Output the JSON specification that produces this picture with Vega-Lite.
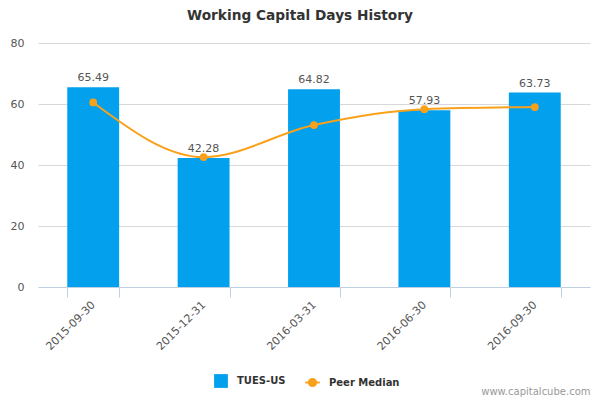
{
  "$schema": "https://vega.github.io/schema/vega-lite/v6.json",
  "width": 552,
  "height": 244,
  "autosize": {"type": "none"},
  "padding": {"left": 38, "top": 43, "right": 10, "bottom": 113},
  "background": "#ffffff",
  "title": {
    "text": "Working Capital Days History",
    "fontSize": 13.7,
    "fontWeight": "bold",
    "color": "#333333",
    "font": "DejaVu Sans",
    "anchor": "middle",
    "dx": -14,
    "offset": 14
  },
  "data": {
    "values": [
      {"date": "2015-09-30", "company": 65.49, "peer": 60.5},
      {"date": "2015-12-31", "company": 42.28, "peer": 42.6},
      {"date": "2016-03-31", "company": 64.82, "peer": 53.1},
      {"date": "2016-06-30", "company": 57.93, "peer": 58.3},
      {"date": "2016-09-30", "company": 63.73, "peer": 59.0}
    ]
  },
  "encoding": {
    "x": {
      "field": "date",
      "type": "ordinal",
      "scale": {"paddingInner": 0.53, "paddingOuter": 0.265},
      "axis": {
        "title": "www.capitalcube.com",
        "titleFontSize": 10,
        "titleFontWeight": "normal",
        "titleColor": "#999999",
        "titleAnchor": "end",
        "titleAlign": "right",
        "titleBaseline": "top",
        "titleX": 552,
        "titleY": 99,
        "labelAngle": -45,
        "labelAlign": "right",
        "labelBaseline": "middle",
        "labelFontSize": 11,
        "labelColor": "#555555",
        "labelPadding": 6,
        "tickBand": "extent",
        "tickColor": "#C0D0E0",
        "tickSize": 10,
        "domainColor": "#C0D0E0",
        "grid": false
      }
    }
  },
  "layer": [
    {
      "mark": {"type": "bar", "color": "#03A1ED"},
      "encoding": {
        "y": {
          "field": "company",
          "type": "quantitative",
          "scale": {"domain": [0, 80]},
          "axis": {
            "title": null,
            "values": [0, 20, 40, 60, 80],
            "labelFontSize": 11,
            "labelColor": "#555555",
            "labelPadding": 14,
            "ticks": false,
            "domain": false,
            "gridColor": "#D8D8D8"
          }
        },
        "color": {
          "datum": "TUES-US",
          "scale": {"range": ["#03A1ED"]},
          "legend": {
            "title": null,
            "orient": "none",
            "legendX": 176,
            "legendY": 331,
            "symbolType": "square",
            "symbolSize": 190,
            "symbolStrokeWidth": 0,
            "labelOffset": 9,
            "labelFontSize": 10,
            "labelFontWeight": "bold",
            "labelColor": "#333333",
            "labelFont": "DejaVu Sans"
          }
        }
      }
    },
    {
      "mark": {"type": "text", "dy": -9, "fontSize": 11, "color": "#555555", "font": "DejaVu Sans"},
      "encoding": {
        "y": {"field": "company", "type": "quantitative"},
        "text": {"field": "company", "type": "quantitative", "format": ".2f"}
      }
    },
    {
      "mark": {
        "type": "line",
        "interpolate": "monotone",
        "strokeWidth": 2,
        "point": {"filled": true, "size": 60}
      },
      "encoding": {
        "y": {"field": "peer", "type": "quantitative"},
        "color": {
          "datum": "Peer Median",
          "scale": {"range": ["#F9A11B"]},
          "legend": {
            "title": null,
            "orient": "none",
            "legendX": 266,
            "legendY": 331,
            "symbolType": "M-1,0H1M0.5,0A0.5,0.5,0,1,1,-0.5,0A0.5,0.5,0,1,1,0.5,0",
            "symbolSize": 210,
            "symbolStrokeWidth": 2,
            "symbolFillColor": "#F9A11B",
            "labelOffset": 8,
            "labelFontSize": 10,
            "labelFontWeight": "bold",
            "labelColor": "#333333",
            "labelFont": "DejaVu Sans"
          }
        }
      }
    }
  ],
  "resolve": {"scale": {"color": "independent"}},
  "config": {
    "font": "DejaVu Sans",
    "view": {"stroke": null}
  }
}
